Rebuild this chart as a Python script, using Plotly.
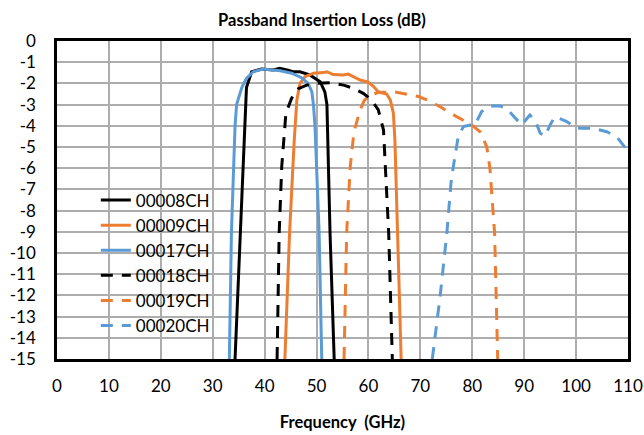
import plotly.graph_objects as go

# ---- data (frequency in GHz, insertion loss in dB) ----
names = ["00008CH", "00009CH", "00017CH", "00018CH", "00019CH", "00020CH"]

x_00008 = [34.3, 35.3, 36.2, 36.5, 37.5, 39.4, 41.7, 42.9, 44.3, 45.5, 46.8, 48.7, 50.7, 51.6, 52.0, 52.1, 52.6, 53.4]
y_00008 = [-15, -9.06, -4.0, -2.2, -1.45, -1.32, -1.37, -1.29, -1.37, -1.45, -1.45, -1.6, -1.92, -2.4, -3.0, -4.0, -9.06, -15]

x_00009 = [43.9, 44.8, 45.7, 46.2, 46.8, 47.8, 48.7, 49.4, 51.3, 52.0, 53.2, 54.5, 55.2, 56.1, 57.1, 57.7, 58.4, 59.7, 60.0, 61.0, 61.9, 62.9, 63.5, 64.2, 64.8, 65.1, 65.6, 66.3]
y_00009 = [-15, -9.06, -4.7, -2.8, -2.0, -1.68, -1.6, -1.52, -1.49, -1.45, -1.58, -1.6, -1.6, -1.56, -1.68, -1.76, -1.84, -1.92, -1.95, -2.15, -2.4, -2.47, -2.5, -2.78, -3.4, -4.7, -9.06, -15]

x_00017 = [33.2, 33.6, 34.3, 34.6, 35.6, 36.5, 37.8, 39.7, 41.5, 43.0, 45.2, 47.1, 48.4, 49.1, 49.4, 49.7, 50.5, 51.0]
y_00017 = [-15, -9.06, -4.0, -3.0, -2.2, -1.76, -1.45, -1.32, -1.37, -1.40, -1.52, -1.73, -2.0, -2.4, -3.0, -4.0, -9.06, -15]

x_00018 = [42.4, 42.8, 43.3, 44.1, 45.2, 46.5, 48.1, 49.7, 52.6, 55.2, 57.1, 59.0, 60.6, 61.9, 62.9, 63.3, 63.9, 64.6]
y_00018 = [-15, -9.06, -5.9, -3.4, -2.7, -2.25, -2.08, -2.0, -1.97, -2.08, -2.23, -2.47, -2.78, -3.25, -4.2, -5.9, -9.06, -15]

x_00019 = [55.3, 55.8, 56.5, 57.2, 58.4, 59.2, 60.3, 62.0, 65.4, 67.0, 69.6, 71.5, 73.8, 77.0, 79.9, 81.5, 82.8, 83.4, 84.3, 84.9]
y_00019 = [-15, -9.06, -5.9, -4.3, -3.25, -2.8, -2.55, -2.42, -2.42, -2.5, -2.62, -2.8, -3.1, -3.57, -3.96, -4.28, -5.0, -6.0, -9.06, -15]

x_00020 = [72.3, 73.8, 75.1, 75.9, 76.4, 77.3, 78.3, 79.6, 80.5, 81.8, 83.4, 85.4, 86.6, 88.6, 89.5, 91.1, 92.1, 93.1, 94.0, 95.0, 95.9, 98.2, 100.1, 103.3, 105.9, 107.8, 109.8, 110.0]
y_00020 = [-15, -12.06, -9.07, -6.7, -5.85, -4.5, -4.04, -3.96, -3.96, -3.33, -3.07, -3.07, -3.18, -3.73, -3.96, -3.49, -3.73, -4.35, -4.48, -3.96, -3.57, -3.8, -4.12, -4.12, -4.28, -4.51, -5.14, -5.2]

x_ticks = [0, 10, 20, 30, 40, 50, 60, 70, 80, 90, 100, 110]
y_ticks = [0, -1, -2, -3, -4, -5, -6, -7, -8, -9, -10, -11, -12, -13, -14, -15]
y_tick_text = ["0", "-1", "-2", "-3", "-4", "-5", "-6", "-7", "-8", "-9", "-10", "-11", "-12", "-13", "-14", "-15"]

title_text = "Passband Insertion Loss (dB)"
x_title = "Frequency  (GHz)"

# ---- styling ----
BLUE = "#5B9BD5"
ORANGE = "#ED7D31"
BLACK = "#000000"
FONT = "Lato"
W, H = 644, 435

series = [
    (names[0], x_00008, y_00008, BLACK, "solid"),
    (names[1], x_00009, y_00009, ORANGE, "solid"),
    (names[2], x_00017, y_00017, BLUE, "solid"),
    (names[3], x_00018, y_00018, BLACK, "12px,9px"),
    (names[4], x_00019, y_00019, ORANGE, "12px,9px"),
    (names[5], x_00020, y_00020, BLUE, "12px,9px"),
]

fig = go.Figure()
for name, xs, ys, color, dash in series:
    fig.add_trace(go.Scatter(
        x=xs, y=ys, name=name, mode="lines",
        line=dict(color=color, width=3, dash=dash),
    ))

# white backing box for the legend (legend itself is transparent)
fig.add_shape(type="rect", xref="paper", yref="paper",
              x0=0.009, x1=0.289, y0=0.082, y1=0.569,
              fillcolor="white", line=dict(width=0), layer="between")

fig.update_layout(
    width=W, height=H,
    margin=dict(l=57, r=16, t=41, b=76, autoexpand=False),
    paper_bgcolor="white", plot_bgcolor="white",
    font=dict(family=FONT, size=17, color="black"),
    title=dict(text="<b>" + title_text + "</b>", x=0.5, xanchor="center", xref="container",
               y=1 - 20 / H, yanchor="middle", font=dict(size=16.5, family=FONT)),
    showlegend=True,
    legend=dict(x=0.068, y=0.555, xanchor="left", yanchor="top",
                bgcolor="rgba(0,0,0,0)", borderwidth=0, font=dict(size=17),
                tracegroupgap=0, itemwidth=30),
)

fig.update_xaxes(
    range=[0, 110], tickvals=x_ticks, ticktext=[str(v) for v in x_ticks],
    showgrid=True, gridcolor="#adadad", gridwidth=1.5,
    showline=True, linecolor="black", linewidth=2.5, mirror=True,
    ticks="outside", ticklen=10, tickcolor="rgba(0,0,0,0)",
    zeroline=False, automargin=False,
    title=dict(text="<b>" + x_title + "</b>", font=dict(size=16.5), standoff=22),
)
fig.update_yaxes(
    range=[-15, 0], tickvals=y_ticks, ticktext=y_tick_text,
    showgrid=True, gridcolor="#adadad", gridwidth=1.5,
    showline=True, linecolor="black", linewidth=2.5, mirror=True,
    ticks="outside", ticklen=15, tickcolor="rgba(0,0,0,0)",
    zeroline=False, automargin=False,
)

# remove the default 8px page margin so the figure fills the window exactly
fig.write_html("out.html", config={"displayModeBar": False},
               post_script="document.body.style.margin='0';")
